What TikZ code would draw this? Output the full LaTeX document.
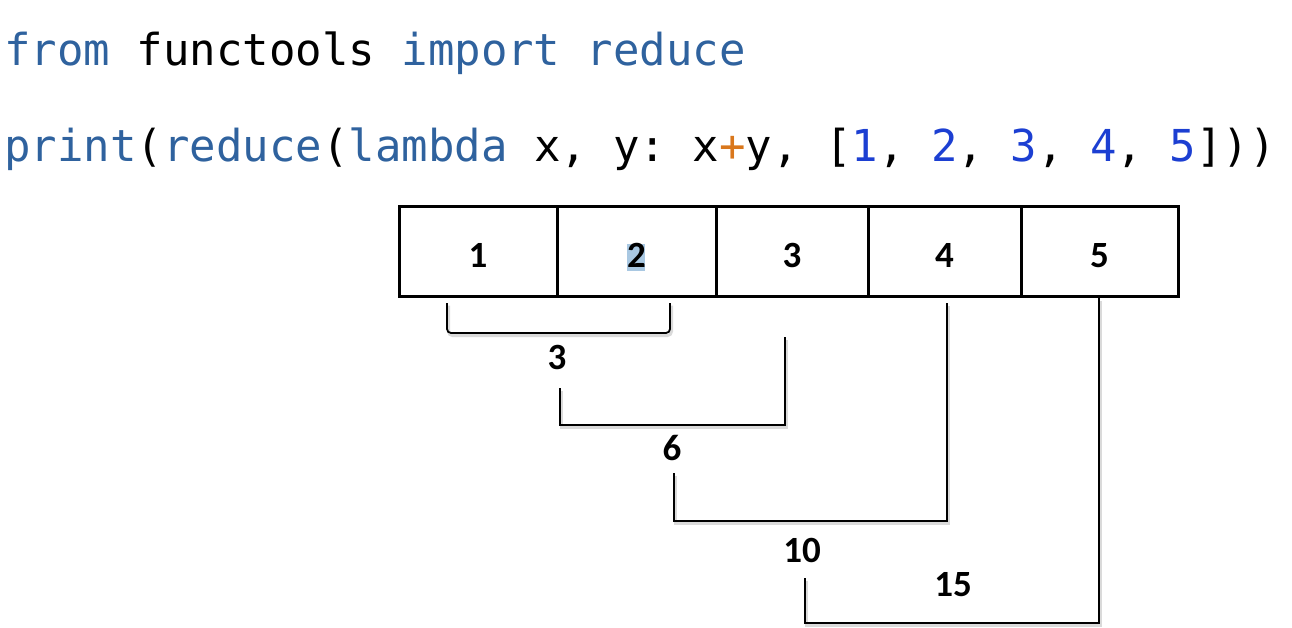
\documentclass[tikz,border=0pt]{standalone}
\usepackage{fontspec}
\setmonofont{DejaVu Sans Mono}
\newfontfamily\labfont{Carlito}
\definecolor{kw}{HTML}{2F629E}
\definecolor{num}{HTML}{1C3FD2}
\definecolor{op}{HTML}{D9771C}
\definecolor{hl}{HTML}{A9C8E2}
\definecolor{shadowgray}{HTML}{DADADA}
\tikzset{
  code/.style={anchor=base west, inner sep=0pt, font=\ttfamily\fontsize{44}{44}\selectfont},
  cell/.style={draw, line width=3pt, minimum height=89pt, inner sep=0pt, outer sep=0pt, text height=31pt, text depth=0pt, font=\labfont\bfseries\fontsize{37}{37}\selectfont},
  lab/.style={inner sep=0pt, font=\labfont\bfseries\fontsize{37}{37}\selectfont},
  brk/.style={line width=1.8pt},
  brkshadow/.style={line width=3pt, draw=shadowgray, transform canvas={shift={(1.5pt,-2.5pt)}}}
}
\begin{document}
\begin{tikzpicture}[x=1pt,y=-1pt]
\useasboundingbox (0,0) rectangle (1292,628);
% code
\node[code] (l1) at (4,66) {\textcolor{kw}{from} functools \textcolor{kw}{import} \textcolor{kw}{reduce}};
\node[code] (l2) at (4,162) {\textcolor{kw}{print}(\textcolor{kw}{reduce}(\textcolor{kw}{lambda} x, y: x\textcolor{op}{+}y, [\textcolor{num}{1}, \textcolor{num}{2}, \textcolor{num}{3}, \textcolor{num}{4}, \textcolor{num}{5}]))};
% cells
\fill[hl] (627,244) rectangle (645,271);
\node[cell, minimum width=158pt] (c1) at (478,251.5) {1};
\node[cell, minimum width=159pt] (c2) at (636.5,251.5) {2};
\node[cell, minimum width=152pt] (c3) at (792,251.5) {3};
\node[cell, minimum width=153pt] (c4) at (944.5,251.5) {4};
\node[cell, minimum width=157pt] (c5) at (1099.5,251.5) {5};
% labels
\node[lab] (s3) at (557,357) {3};
\node[lab] (s6) at (672,448) {6};
\node[lab] (s10) at (802,550) {10};
\node[lab] (s15) at (953,585) {15};
% bracket coordinates
\coordinate (a1) at (447,303);
\coordinate (a2) at (670,303);
\coordinate (b1) at (560,388);
\coordinate (b2) at (785,337);
\coordinate (d1) at (674,473);
\coordinate (d2) at (947,303);
\coordinate (e1) at (805,578);
\coordinate (e2) at (1099,298);
% shadows
\draw[brkshadow, rounded corners=4pt] (a1) |- (670,333) -- (a2);
\draw[brkshadow] (b1) |- (785,425) -- (b2);
\draw[brkshadow] (d1) |- (947,521) -- (d2);
\draw[brkshadow] (e1) |- (1099,623) -- (e2);
% brackets
\draw[brk, rounded corners=4pt] (a1) |- (670,333) -- (a2);
\draw[brk] (b1) |- (785,425) -- (b2);
\draw[brk] (d1) |- (947,521) -- (d2);
\draw[brk] (e1) |- (1099,623) -- (e2);
\end{tikzpicture}
\end{document}
